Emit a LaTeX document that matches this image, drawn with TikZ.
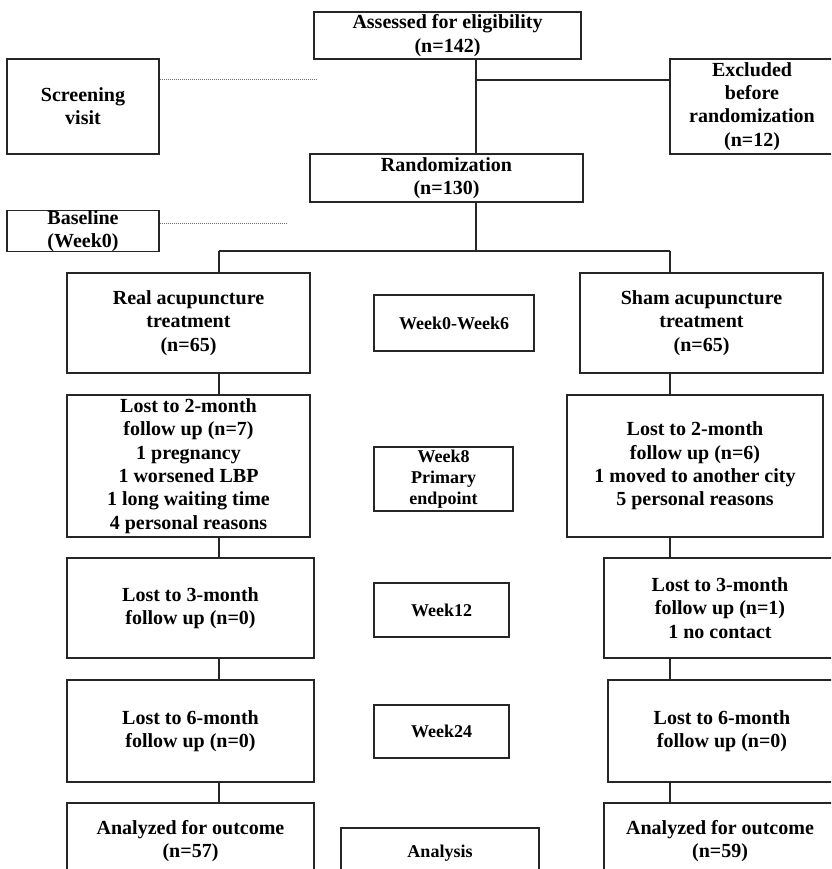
\documentclass[tikz,border=0pt]{standalone}
\usepackage{fontspec}
\setmainfont{Liberation Serif}
\begin{document}
\begin{tikzpicture}[x=1pt,y=-1pt,
  box/.style={draw=black!85, line width=1.3pt, inner sep=0pt, align=center,
    font=\bfseries\fontsize{20}{23.3}\selectfont},
  wbox/.style={box, font=\bfseries\fontsize{18}{20.7}\selectfont},
  conn/.style={draw=black!85, line width=1.3pt},
  dline/.style={draw=black!55, line width=1pt, densely dotted}]
\useasboundingbox (0,0) rectangle (831,869);
\clip (0,0) rectangle (831,869);
% boxes
\node[box, minimum width=267, minimum height=47] (assess) at (447.5,35.5) {Assessed for eligibility\\(n=142)};
\node[box, minimum width=152, minimum height=95] (screen) at (83,106.5) {Screening\\visit};
\node[box, minimum width=164, minimum height=95] (excl) at (752,106.5) {Excluded\\before\\randomization\\(n=12)};
\node[box, minimum width=273, minimum height=48] (rand) at (446.5,178) {Randomization\\(n=130)};
\node[box, minimum width=152, minimum height=40] (base) at (83,231) {Baseline\\(Week0)};
\node[box, minimum width=243, minimum height=100] (real) at (188.5,323) {Real acupuncture\\treatment\\(n=65)};
\node[wbox, minimum width=160, minimum height=56] (wk06) at (454,323) {Week0-Week6};
\node[box, minimum width=243, minimum height=100] (sham) at (701.5,323) {Sham acupuncture\\treatment\\(n=65)};
\node[box, minimum width=243, minimum height=142] (lostLa) at (188.5,466) {Lost to 2-month\\follow up (n=7)\\1 pregnancy\\1 worsened LBP\\1 long waiting time\\4 personal reasons};
\node[wbox, minimum width=139, minimum height=64] (wk8) at (443.5,479) {Week8\\Primary\\endpoint};
\node[box, minimum width=256, minimum height=142] (lostRa) at (695,466) {Lost to 2-month\\follow up (n=6)\\1 moved to another city\\5 personal reasons};
\node[box, minimum width=247, minimum height=100] (lostLb) at (190.5,608) {Lost to 3-month\\follow up (n=0)};
\node[wbox, minimum width=135, minimum height=54] (wk12) at (441.5,610) {Week12};
\node[box, minimum width=232, minimum height=100] (lostRb) at (720,608) {Lost to 3-month\\follow up (n=1)\\1 no contact};
\node[box, minimum width=247, minimum height=102] (lostLc) at (190.5,731) {Lost to 6-month\\follow up (n=0)};
\node[wbox, minimum width=135, minimum height=53] (wk24) at (441.5,731.5) {Week24};
\node[box, minimum width=228, minimum height=102] (lostRc) at (722,731) {Lost to 6-month\\follow up (n=0)};
\node[box, minimum width=247, minimum height=76] (anaL) at (190.5,841) {Analyzed for outcome\\(n=57)};
\node[wbox, minimum width=198, minimum height=50] (analysis) at (440,853) {Analysis};
\node[box, minimum width=232, minimum height=76] (anaR) at (720,841) {Analyzed for outcome\\(n=59)};
% helper coordinates
\coordinate (trunk) at (476,80);
\coordinate (split) at (476,251);
\coordinate (colL) at (219,251);
\coordinate (colR) at (670,251);
\coordinate (sEnd) at (316,80);
\coordinate (bEnd) at (286,223);
% connectors
\draw[conn] (assess.south -| trunk) -- (rand.north -| trunk);
\draw[conn] (trunk) -- (trunk -| excl.west);
\draw[conn] (rand.south -| split) -- (split);
\draw[conn] (colL) -- (colR);
\draw[conn] (colL) -- (real.north -| colL);
\draw[conn] (colR) -- (sham.north -| colR);
\draw[conn] (real.south -| colL) -- (lostLa.north -| colL);
\draw[conn] (lostLa.south -| colL) -- (lostLb.north -| colL);
\draw[conn] (lostLb.south -| colL) -- (lostLc.north -| colL);
\draw[conn] (lostLc.south -| colL) -- (anaL.north -| colL);
\draw[conn] (sham.south -| colR) -- (lostRa.north -| colR);
\draw[conn] (lostRa.south -| colR) -- (lostRb.north -| colR);
\draw[conn] (lostRb.south -| colR) -- (lostRc.north -| colR);
\draw[conn] (lostRc.south -| colR) -- (anaR.north -| colR);
\draw[dline] (sEnd -| screen.east) -- (sEnd);
\draw[dline] (bEnd -| base.east) -- (bEnd);
\end{tikzpicture}
\end{document}
